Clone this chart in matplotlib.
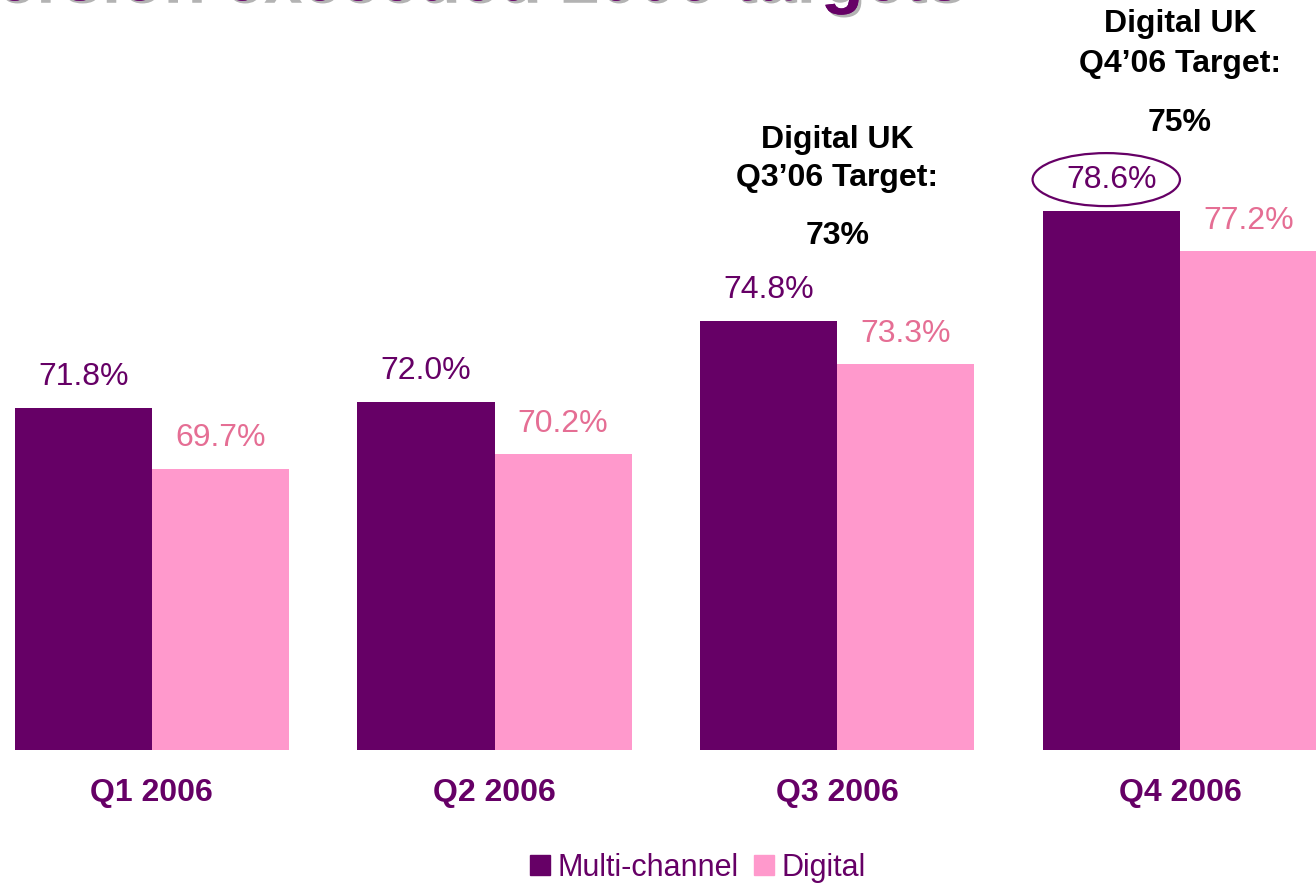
import matplotlib
matplotlib.use("Agg")
import matplotlib.pyplot as plt
import matplotlib.patheffects as pe
from matplotlib.patches import Ellipse, Patch
import numpy as np

quarters = ["Q1 2006", "Q2 2006", "Q3 2006", "Q4 2006"]
multi_channel = [71.8, 72.0, 74.8, 78.6]
digital = [69.7, 70.2, 73.3, 77.2]
targets = {2: ("Q3\u201906", "73%"), 3: ("Q4\u201906", "75%")}
title = "Conversion exceeded 2006 targets"

purple = "#660066"
pink = "#FF99CC"
pink_text = "#E56E94"

plt.rcParams["font.family"] = ["Liberation Sans", "DejaVu Sans"]

fig = plt.figure(figsize=(13.16, 8.85), dpi=100)
ax = fig.add_axes([0, 135 / 885, 1, 750 / 885])

x = np.arange(len(quarters))
w = 0.4
base = 60
ax.bar(x - w / 2, np.array(multi_channel) - base, w, bottom=base, color=purple)
ax.bar(x + w / 2, np.array(digital) - base, w, bottom=base, color=pink)

ax.set_xlim(-0.443, 3.397)
ax.set_ylim(base, base + 750 / 29)
ax.axis("off")

# value labels
for xi, m, d in zip(x, multi_channel, digital):
    ax.annotate(f"{m:.1f}%", (xi - w / 2, m), xytext=(0, 22), textcoords="offset points",
                ha="center", va="center", fontsize=23, color=purple)
    ax.annotate(f"{d:.1f}%", (xi + w / 2, d), xytext=(0, 22), textcoords="offset points",
                ha="center", va="center", fontsize=23, color=pink_text)

# circle round the Q4 value
ax.add_patch(Ellipse((x[3] - w / 2 - 0.015, multi_channel[3] + 31 / 29), 0.43, 53 / 29,
                     fill=False, edgecolor=purple, lw=1.6, clip_on=False))

# category labels
for xi, q in zip(x, quarters):
    ax.annotate(q, (xi, base), xytext=(0, -31), textcoords="offset points",
                ha="center", va="center", fontsize=23, fontweight="bold", color=purple,
                annotation_clip=False)

# target notes (pixel offsets above the taller bar)
note_offsets = {2: (181, 143, 85), 3: (187, 147, 88)}
for i, (q, t) in targets.items():
    top = max(multi_channel[i], digital[i])
    for txt, off in zip(["Digital UK", q + " Target:", t], note_offsets[i]):
        ax.annotate(txt, (x[i], top), xytext=(0, off * 0.72), textcoords="offset points",
                    ha="center", va="center", fontsize=23, fontweight="bold", color="black",
                    annotation_clip=False)

# title, cut off at the top
fig.text(965 / 1316, 1.0, title, ha="right", va="baseline", fontsize=50,
         fontweight="bold", color=purple,
         path_effects=[pe.withSimplePatchShadow(offset=(2, -2), shadow_rgbFace="#B3B3B3", alpha=1),
                       pe.Normal()])

handles = [Patch(color=purple, label="Multi-channel"), Patch(color=pink, label="Digital")]
fig.legend(handles=handles, loc="center", bbox_to_anchor=(698 / 1316, 1 - 868 / 885), ncol=2,
           frameon=False, fontsize=22, labelcolor=purple, handlelength=0.65, handleheight=0.65,
           handletextpad=0.25, columnspacing=0.5)

fig.savefig("out.png", dpi=100)
